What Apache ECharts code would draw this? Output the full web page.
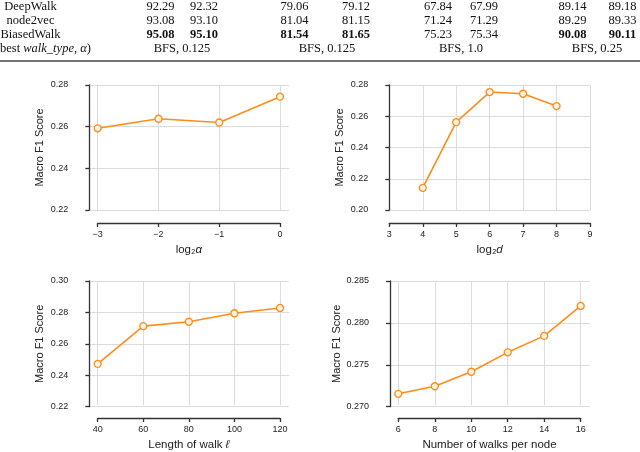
<!DOCTYPE html>
<html><head><meta charset="utf-8">
<script src="https://cdn.jsdelivr.net/npm/echarts@6.0.0/dist/echarts.min.js"></script>
<style>html,body{margin:0;padding:0;background:#fff}#c{width:640px;height:452px}</style>
</head><body><div id="c"></div>
<script>
// ---- table data ----
const methods = ['DeepWalk', 'node2vec', 'BiasedWalk'];
const deepWalkRow = ['92.29', '92.32', '79.06', '79.12', '67.84', '67.99', '89.14', '89.18'];
const node2vecRow = ['93.08', '93.10', '81.04', '81.15', '71.24', '71.29', '89.29', '89.33'];
const biasedWalkRow = ['95.08', '95.10', '81.54', '81.65', '75.23', '75.34', '90.08', '90.11'];
const biasedWalkBold = [true, true, true, true, false, false, true, true];
const bestSettings = ['BFS, 0.125', 'BFS, 0.125', 'BFS, 1.0', 'BFS, 0.25'];

// ---- chart data ----
const alphaX = [-3, -2, -1, 0];
const alphaF1 = [0.2592, 0.2638, 0.2620, 0.2744];
const dimX = [4, 5, 6, 7, 8];
const dimF1 = [0.2142, 0.2562, 0.2755, 0.2744, 0.2665];
const lenX = [40, 60, 80, 100, 120];
const lenF1 = [0.2465, 0.2709, 0.2737, 0.2792, 0.2826];
const walksX = [6, 8, 10, 12, 14, 16];
const walksF1 = [0.27135, 0.27227, 0.27402, 0.27637, 0.27836, 0.28198];

const ORANGE = '#ff8c1a';
const SANS = '"Liberation Sans", Arial, Helvetica, sans-serif';
const SERIF = '"Liberation Serif", "Times New Roman", serif';
const SPINE = '#333';
const GRIDC = '#dcdcdc';

const plots = [
  { x: alphaX, y: alphaF1, bgLeft: 89.3, bgWidth: 200, dataLeft: 97.7, dataWidth: 182.3, top: 85, height: 125,
    xMin: -3, xMax: 0, xInt: 1, yMin: 0.22, yMax: 0.28, yInt: 0.02, yDec: 2, yGap: 30,
    xName: '{n|log₂}{i|α}' },
  { x: dimX, y: dimF1, bgLeft: 389.3, bgWidth: 200.7, dataLeft: 389.3, dataWidth: 200.7, top: 85, height: 125,
    xMin: 3, xMax: 9, xInt: 1, yMin: 0.20, yMax: 0.28, yInt: 0.02, yDec: 2, yGap: 30,
    xName: '{n|log₂}{i|d}' },
  { x: lenX, y: lenF1, bgLeft: 89.3, bgWidth: 200, dataLeft: 97.7, dataWidth: 182.3, top: 281, height: 125.7,
    xMin: 40, xMax: 120, xInt: 20, yMin: 0.22, yMax: 0.30, yInt: 0.02, yDec: 2, yGap: 30,
    xName: '{n|Length of walk }{i|ℓ}' },
  { x: walksX, y: walksF1, bgLeft: 390, bgWidth: 200, dataLeft: 398.3, dataWidth: 182.4, top: 281, height: 125.7,
    xMin: 6, xMax: 16, xInt: 2, yMin: 0.270, yMax: 0.285, yInt: 0.005, yDec: 3, yGap: 33,
    xName: '{n|Number of walks per node}' }
];

const grid = [], xAxis = [], yAxis = [], series = [];
const lineStyle = { color: SPINE, width: 1.3 };
const nameRich = {
  n: { fontFamily: SANS, fontSize: 11.5, color: '#222' },
  i: { fontFamily: SANS, fontSize: 11.5, fontStyle: 'italic', color: '#222' }
};
plots.forEach((p, k) => {
  const gb = 2 * k, gd = 2 * k + 1;
  grid.push({ left: p.bgLeft, top: p.top, width: p.bgWidth, height: p.height });
  grid.push({ left: p.dataLeft, top: p.top, width: p.dataWidth, height: p.height });
  xAxis.push({ gridIndex: gb, type: 'value', show: false, min: 0, max: 1 });
  yAxis.push({
    gridIndex: gb, type: 'value', min: p.yMin, max: p.yMax, interval: p.yInt, offset: 14,
    axisLine: { show: true, lineStyle },
    axisTick: { show: true, length: 4, lineStyle },
    axisLabel: { fontFamily: SANS, fontSize: 9, color: '#222', margin: 7,
      formatter: v => v.toFixed(p.yDec) },
    splitLine: { show: true, lineStyle: { color: GRIDC, width: 1 } },
    name: 'Macro F1 Score', nameLocation: 'middle', nameGap: p.yGap,
    nameTextStyle: { fontFamily: SANS, fontSize: 11, color: '#222' }
  });
  xAxis.push({
    gridIndex: gd, type: 'value', min: p.xMin, max: p.xMax, interval: p.xInt, offset: 13,
    axisLine: { show: true, lineStyle },
    axisTick: { show: true, length: 4, lineStyle },
    axisLabel: { fontFamily: SANS, fontSize: 9, color: '#222', margin: 7,
      formatter: v => String(v).replace('-', '\u2212') },
    splitLine: { show: true, lineStyle: { color: GRIDC, width: 1 } },
    name: p.xName, nameLocation: 'middle', nameGap: 21,
    nameTextStyle: { rich: nameRich }
  });
  yAxis.push({ gridIndex: gd, type: 'value', min: p.yMin, max: p.yMax, show: false });
  series.push({
    type: 'line', xAxisIndex: gd, yAxisIndex: gd,
    data: p.x.map((v, j) => [v, p.y[j]]),
    symbol: 'circle', symbolSize: 7,
    lineStyle: { color: ORANGE, width: 1.6 },
    itemStyle: { color: '#fff3e3', borderColor: ORANGE, borderWidth: 1.3 },
    silent: true, animation: false
  });
});

// ---- table as graphic text ----
const colX = [160.5, 204, 294.5, 356, 438, 484, 572.5, 622.5];
const rowY = [6.5, 20.5, 34.5];
const groupX = [182, 327, 461, 597];
const bestY = 48.5;
const tableRows = [deepWalkRow, node2vecRow, biasedWalkRow];
const graphic = [];
const fontN = '12.5px ' + SERIF;
const fontB = 'bold 12.5px ' + SERIF;
methods.forEach((m, r) => {
  graphic.push({ type: 'text', style: { text: m, x: 30.5, y: rowY[r], font: fontN, fill: '#111', align: 'center', verticalAlign: 'middle' } });
  tableRows[r].forEach((v, c) => {
    const bold = r === 2 && biasedWalkBold[c];
    graphic.push({ type: 'text', style: { text: v, x: colX[c], y: rowY[r], font: bold ? fontB : fontN, fill: '#111', align: 'center', verticalAlign: 'middle' } });
  });
});
graphic.push({ type: 'text', style: {
  text: '{r|best }{i|walk_type, α}{r|)}', x: 0, y: bestY, align: 'left', verticalAlign: 'middle',
  rich: { r: { font: fontN, fill: '#111' }, i: { font: 'italic 12.5px ' + SERIF, fill: '#111' } } } });
bestSettings.forEach((s, c) => {
  graphic.push({ type: 'text', style: { text: s, x: groupX[c], y: bestY, font: fontN, fill: '#111', align: 'center', verticalAlign: 'middle' } });
});
graphic.push({ type: 'line', shape: { x1: 0, y1: 61, x2: 640, y2: 61 }, style: { stroke: '#444', lineWidth: 1.4 } });

const chart = echarts.init(document.getElementById('c'), null, { renderer: 'canvas' });
chart.setOption({ animation: false, backgroundColor: '#fff', grid, xAxis, yAxis, series, graphic });
</script>
</body></html>
